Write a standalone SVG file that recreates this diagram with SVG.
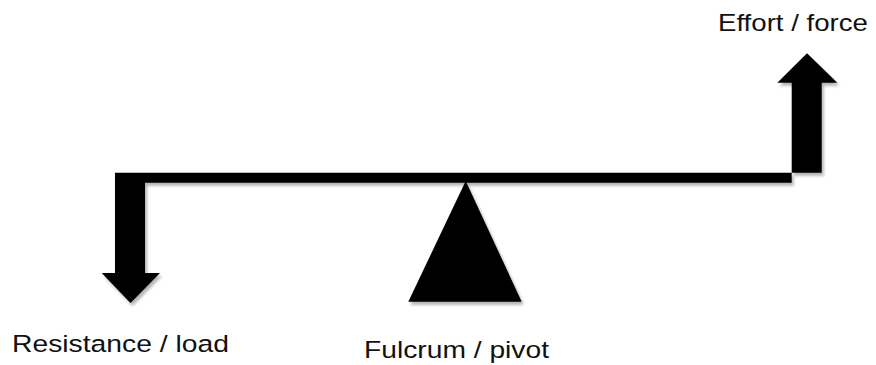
<svg xmlns="http://www.w3.org/2000/svg" width="876" height="365" viewBox="0 0 876 365">
  <style>
    .solid { fill: #000; filter: url(#shade); }
    .label { font-family: "Liberation Sans", Arial, Helvetica, sans-serif; font-size: 24.5px; fill: #111; }
  </style>
  <defs>
    <filter id="shade" x="-10%" y="-10%" width="130%" height="130%">
      <feDropShadow dx="2" dy="3" stdDeviation="1.5" flood-color="#000" flood-opacity="0.3"/>
    </filter>
  </defs>
  <rect width="876" height="365" fill="#fff"/>

  <!-- lever with the load arrow (left, down) and effort arrow (right, up) -->
  <g id="lever">
    <path class="solid" d="M115,172.7 H821.7 V82.7 H837.3 L807,53.3 L777.3,82.7 H791.7 V182.7 H145 V273 H160 L130.5,303 L101.7,273 H115 Z"/>
  </g>

  <!-- fulcrum -->
  <g id="fulcrum">
    <path class="solid" d="M465.7,181 L521.7,301.7 H408.3 Z"/>
  </g>

  <g id="labels">
    <text class="label" x="718" y="30.5" textLength="150" lengthAdjust="spacingAndGlyphs">Effort / force</text>
    <text class="label" x="12" y="351.5" textLength="217" lengthAdjust="spacingAndGlyphs">Resistance / load</text>
    <text class="label" x="364" y="357.5" textLength="185" lengthAdjust="spacingAndGlyphs">Fulcrum / pivot</text>
  </g>
</svg>
